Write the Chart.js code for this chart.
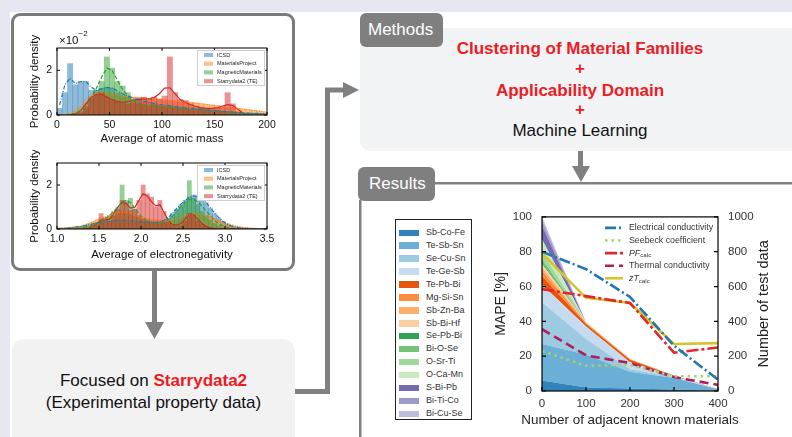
<!DOCTYPE html>
<html>
<head>
<meta charset="utf-8">
<script src="https://cdn.jsdelivr.net/npm/chart.js@4.4.1/dist/chart.umd.min.js"></script>
<style>
body { margin: 0; }
#page { position: relative; width: 792px; height: 437px; overflow: hidden; background: #fff;
        font-family: "Liberation Sans", Arial, sans-serif; }
.abs { position: absolute; }
.band { background: #e6e7f1; }
.tab { background: #7f7f7f; color: #fff; font-size: 17px; border-radius: 6px; box-sizing: border-box; }
.red { color: #ec1c24; font-weight: bold; }
.mline { left: 360px; width: 440px; text-align: center; font-size: 17px; line-height: 20px; }
#famLegend { left: 395px; top: 219px; width: 77px; height: 201px; border: 1px solid #222; box-sizing: border-box; background: #fff; }
.famRow { position: absolute; left: 0; height: 13px; line-height: 13px; font-size: 9px; color: #333; }
.famSw { position: absolute; left: 3px; top: 3.5px; width: 20px; height: 6.5px; }
.famTx { position: absolute; left: 30px; white-space: nowrap; }
</style>
</head>
<body>
<div id="page">
  <div class="abs band" style="left:0;top:0;width:792px;height:12px"></div>
  <div class="abs band" style="left:0;top:0;width:10px;height:437px"></div>

  <!-- left panel -->
  <div class="abs" style="left:11px;top:13px;width:284px;height:258px;border:3px solid #7b7b7b;border-radius:9px;box-sizing:border-box;background:#fff"></div>
  <canvas id="histMass" class="abs" style="left:14px;top:30px" width="270" height="120"></canvas>
  <canvas id="histEn" class="abs" style="left:14px;top:150px" width="270" height="120"></canvas>

  <!-- bottom left -->
  <div class="abs" style="left:12px;top:339px;width:283px;height:120px;background:#f2f2f2;border-radius:12px"></div>
  <div class="abs" style="left:12px;top:370px;width:283px;text-align:center;font-size:17px;line-height:22px;color:#111">
    Focused on <span class="red">Starrydata2</span><br>(Experimental property data)
  </div>

  <!-- methods -->
  <div class="abs" style="left:360px;top:28px;width:440px;height:123px;background:#f2f3f4;border-radius:10px"></div>
  <div class="abs tab" style="left:360px;top:13px;width:83px;height:34px;line-height:34px;padding-left:8px">Methods</div>
  <div class="abs mline red" style="top:39px">Clustering of Material Families</div>
  <div class="abs mline red" style="top:59px">+</div>
  <div class="abs mline red" style="top:81px">Applicability Domain</div>
  <div class="abs mline red" style="top:100px">+</div>
  <div class="abs mline" style="top:121px;color:#111">Machine Learning</div>

  <!-- results -->
  <div class="abs tab" style="left:358px;top:167px;width:77px;height:34px;line-height:34px;padding-left:11px">Results</div>

  <svg class="abs" style="left:0;top:0" width="792" height="437">
    <g fill="#808080">
      <rect x="152" y="270" width="5" height="53"></rect>
      <polygon points="145,322 164,322 154.5,339"></polygon>
      <polygon points="343,82 343,98 359,90"></polygon>
      <rect x="578" y="151" width="5" height="16"></rect>
      <polygon points="572,166 590,166 581,182"></polygon>
      <rect x="435" y="182" width="357" height="2.5"></rect>
      <rect x="359" y="200" width="2.5" height="237"></rect>
    </g>
    <polyline points="295,391.5 327.5,391.5 327.5,90 344,90" fill="none" stroke="#808080" stroke-width="5"></polyline>
  </svg>

  <div id="famLegend" class="abs"></div>
  <canvas id="mapeChart" class="abs" style="left:480px;top:200px" width="310" height="237"></canvas>
</div>

<script>
// ---------- histogram data: average atomic mass (x1e-2) ----------
const massCenters = [2.5,7.5,12.5,17.5,22.5,27.5,32.5,37.5,42.5,47.5,52.5,57.5,62.5,67.5,72.5,77.5,82.5,87.5,92.5,97.5,
  102.5,107.5,112.5,117.5,122.5,127.5,132.5,137.5,142.5,147.5,152.5,157.5,162.5,167.5,172.5,177.5,182.5,187.5,192.5,197.5];
const massICSD = [0.3,1.0,2.3,1.35,1.5,1.5,1.1,1.1,1.2,1.25,1.2,1.0,0.9,0.8,0.7,0.65,0.6,0.55,0.5,0.45,
  0.42,0.4,0.37,0.34,0.3,0.28,0.26,0.24,0.22,0.2,0.18,0.16,0.14,0.12,0.1,0.09,0.08,0.07,0.06,0.05];
const massMP = [0,0,0.05,0.15,0.3,0.55,0.8,0.95,1.0,0.98,0.95,0.9,0.85,0.82,0.8,0.78,0.78,0.74,0.72,0.72,
  0.68,0.66,0.64,0.62,0.6,0.57,0.54,0.51,0.48,0.45,0.42,0.39,0.36,0.33,0.3,0.27,0.24,0.21,0.18,0.15];
const massMM = [0,0,0.02,0.05,0.15,0.3,0.7,1.1,1.5,2.6,2.1,1.5,1.3,1.0,0.7,0.5,0.45,0.4,0.45,0.4,
  0.35,0.35,0.3,0.3,0.28,0.25,0.25,0.22,0.2,0.2,0.18,0.15,0.14,0.12,0.1,0.08,0.07,0.05,0.04,0.03];
const massSD = [0,0,0,0,0.1,0.4,0.8,0.95,1.0,0.8,0.7,0.6,0.55,0.5,0.55,0.75,0.8,0.75,0.8,0.7,
  0.85,2.6,1.0,0.7,0.65,0.5,0.4,0.35,0.3,0.3,0.3,0.35,1.0,0.5,0.15,0.05,0,0,0,0];
const massKdeICSD = [0.45,1.35,1.65,1.4,1.5,1.5,1.25,1.1,1.17,1.23,1.2,1.08,0.95,0.85,0.76,0.68,0.62,0.57,0.52,0.48,
  0.45,0.42,0.38,0.35,0.32,0.3,0.27,0.25,0.23,0.21,0.19,0.17,0.15,0.13,0.11,0.1,0.09,0.08,0.07,0.06];
const massKdeMP = [0,0.02,0.08,0.2,0.4,0.65,0.85,0.97,1.0,0.97,0.93,0.88,0.84,0.81,0.79,0.77,0.75,0.73,0.71,0.69,
  0.67,0.65,0.63,0.61,0.58,0.55,0.52,0.5,0.47,0.44,0.41,0.38,0.35,0.32,0.29,0.26,0.23,0.2,0.17,0.14];
const massKdeMM = [0,0.01,0.03,0.08,0.2,0.4,0.75,1.2,1.7,2.1,2.0,1.55,1.15,0.85,0.65,0.53,0.46,0.43,0.41,0.39,
  0.37,0.35,0.33,0.31,0.29,0.27,0.25,0.23,0.21,0.19,0.17,0.15,0.13,0.11,0.09,0.07,0.06,0.05,0.04,0.03];
const massKdeSD = [0,0,0.01,0.05,0.2,0.5,0.8,0.93,0.93,0.8,0.68,0.6,0.57,0.6,0.65,0.7,0.72,0.72,0.78,0.95,
  1.2,1.22,0.95,0.68,0.55,0.46,0.38,0.32,0.3,0.3,0.33,0.4,0.46,0.42,0.25,0.08,0.02,0,0,0];
const massTicks = [0, 50, 100, 150, 200];

// ---------- histogram data: average electronegativity ----------
const enCenters = [1.025,1.075,1.125,1.175,1.225,1.275,1.325,1.375,1.425,1.475,1.525,1.575,1.625,1.675,1.725,1.775,1.825,1.875,1.925,1.975,
  2.025,2.075,2.125,2.175,2.225,2.275,2.325,2.375,2.425,2.475,2.525,2.575,2.625,2.675,2.725,2.775,2.825,2.875,2.925,2.975,
  3.025,3.075,3.125,3.175,3.225,3.275,3.325,3.375,3.425,3.475];
const enICSD = [0.02,0.03,0.05,0.07,0.1,0.12,0.15,0.18,0.22,0.26,0.3,0.33,0.36,0.38,0.4,0.42,0.4,0.38,0.36,0.35,
  0.33,0.32,0.3,0.3,0.32,0.38,0.5,0.7,0.9,1.1,1.3,1.45,1.55,1.5,1.4,1.2,0.95,0.7,0.5,0.35,
  0.22,0.14,0.08,0.05,0.03,0.02,0.01,0.01,0,0];
const enMP = [0.05,0.05,0.06,0.08,0.1,0.12,0.18,0.25,0.32,0.42,0.5,0.55,0.6,0.68,0.75,0.8,0.78,0.7,0.6,0.55,
  0.5,0.45,0.42,0.4,0.38,0.36,0.35,0.38,0.45,0.52,0.6,0.68,0.72,0.72,0.7,0.62,0.55,0.47,0.4,0.32,
  0.25,0.18,0.13,0.1,0.07,0.05,0.04,0.03,0.02,0.01];
const enMM = [0,0,0,0,0.02,0.04,0.08,0.12,0.2,0.3,0.4,0.5,0.6,0.8,1.0,2.0,1.3,1.4,0.9,0.6,
  0.45,0.35,0.3,0.25,0.25,0.3,0.4,0.55,0.75,1.0,1.2,2.2,1.4,1.1,0.8,0.6,0.4,0.25,0.15,0.08,
  0.04,0.02,0,0,0,0,0,0,0,0];
const enSD = [0,0,0,0,0,0,0,0,0.05,0.2,0.7,0.4,0.35,0.6,0.9,1.3,1.2,0.85,0.9,1.3,
  2.0,1.6,1.45,1.0,1.3,0.8,0.3,0.15,0.1,0.15,0.35,0.7,0.6,0.35,0.2,0.1,0.05,0,0,0,
  0,0,0,0,0,0,0,0,0,0];
const enKdeICSD = [0.01,0.02,0.04,0.06,0.09,0.12,0.15,0.19,0.23,0.27,0.3,0.33,0.36,0.38,0.39,0.4,0.39,0.37,0.35,0.33,
  0.32,0.31,0.3,0.3,0.33,0.4,0.52,0.72,0.93,1.13,1.3,1.43,1.5,1.48,1.38,1.2,0.97,0.73,0.52,0.35,
  0.22,0.13,0.08,0.05,0.03,0.02,0.01,0,0,0];
const enKdeMP = [0.03,0.04,0.05,0.07,0.09,0.12,0.17,0.24,0.32,0.41,0.49,0.55,0.61,0.68,0.74,0.77,0.75,0.69,0.61,0.55,
  0.5,0.46,0.42,0.4,0.38,0.37,0.37,0.4,0.46,0.53,0.6,0.66,0.7,0.7,0.67,0.61,0.54,0.46,0.39,0.31,
  0.24,0.18,0.13,0.09,0.06,0.05,0.04,0.03,0.02,0.01];
const enKdeMM = [0,0,0,0,0.02,0.04,0.07,0.11,0.17,0.25,0.35,0.47,0.62,0.8,1.0,1.2,1.3,1.2,0.95,0.7,
  0.5,0.38,0.3,0.27,0.27,0.32,0.42,0.58,0.8,1.02,1.2,1.33,1.35,1.25,1.05,0.82,0.6,0.4,0.25,0.15,
  0.08,0.04,0.02,0,0,0,0,0,0,0];
const enKdeSD = [0,0,0,0,0,0,0,0.03,0.1,0.25,0.4,0.42,0.45,0.7,1.0,1.22,1.15,0.95,0.98,1.3,
  1.6,1.5,1.25,1.05,1.1,0.75,0.38,0.2,0.18,0.25,0.45,0.7,0.65,0.45,0.25,0.12,0.05,0.02,0,0,
  0,0,0,0,0,0,0,0,0,0];
const enTicks = [1.0, 1.5, 2.0, 2.5, 3.0, 3.5];
const densityTicks = [0, 2];

const sourceNames = ['ICSD', 'MaterialsProject', 'MagneticMaterials', 'Starrydata2 (TE)'];
const sourceColors = ['#1f77b4', '#ff7f0e', '#2ca02c', '#d62728'];
const sourceFills = ['rgba(31,119,180,0.5)', 'rgba(255,127,14,0.5)', 'rgba(44,160,44,0.5)', 'rgba(214,39,40,0.5)'];
const kdeDashes = [[4, 1.5, 1, 1.5], [1, 1.5], [4, 2], []];

// ---------- MAPE chart data ----------
const knownCounts = [0, 100, 200, 300, 400];
const mapeElec = [80, 70, 54, 26, 6.5];
const mapeSeebeck = [23, 14.5, 15, 8.5, 8.5];
const mapePF = [58.5, 54.5, 50.5, 22, 25];
const mapeThermal = [35.5, 20.5, 16, 8, 3.5];
const mapeZT = [79, 53.5, 50.5, 27, 27.5];

const families = ['Sb-Co-Fe','Te-Sb-Sn','Se-Cu-Sn','Te-Ge-Sb','Te-Pb-Bi','Mg-Si-Sn','Sb-Zn-Ba','Sb-Bi-Hf',
  'Se-Pb-Bi','Bi-O-Se','O-Sr-Ti','O-Ca-Mn','S-Bi-Pb','Bi-Ti-Co','Bi-Cu-Se'];
const familyColors = ['#3182bd','#6baed6','#9ecae1','#c6dbef','#e6550d','#fd8d3c','#fdae6b','#fdd0a2',
  '#31a354','#74c476','#a1d99b','#c7e9c0','#756bb1','#9e9ac8','#bcbddc'];
// number of test data per family at each x (stacked)
const countsAt0   = [60, 210, 240, 100, 50, 30, 20, 20, 10, 20, 40, 70, 80, 30, 20];
const countsAt100 = [20, 190, 90, 70, 15, 5, 3, 2, 0, 0, 0, 0, 0, 0, 0];
const countsAt200 = [15, 95, 15, 40, 15, 3, 1, 1, 0, 0, 0, 0, 0, 0, 0];
const countsAt300 = [8, 67, 5, 5, 3, 1, 0, 0, 0, 0, 0, 0, 0, 0, 0];
const countsAt400 = [2, 8, 0, 0, 1, 0, 0, 0, 0, 0, 0, 0, 0, 0, 0];
const mapeTicks = [0, 20, 40, 60, 80, 100];
const countTicks = [0, 200, 400, 600, 800, 1000];
const knownTicks = [0, 100, 200, 300, 400];

const FONT = '"Liberation Sans", Arial, sans-serif';
Chart.defaults.font.family = FONT;
Chart.defaults.color = '#222';

// box around plot + inward ticks (+ titles that must not be squeezed)
const framePlugin = {
  id: 'frame',
  afterDraw(chart, args, opts) {
    const { ctx, chartArea: a } = chart;
    const len = opts.tick || 3;
    ctx.save();
    ctx.strokeStyle = '#000';
    ctx.lineWidth = opts.width || 1;
    ctx.strokeRect(a.left, a.top, a.right - a.left, a.bottom - a.top);
    ctx.beginPath();
    Object.values(chart.scales).forEach(s => {
      s.ticks.forEach(t => {
        const p = s.getPixelForValue(t.value);
        if (s.isHorizontal()) {
          ctx.moveTo(p, a.bottom); ctx.lineTo(p, a.bottom - len);
          if (opts.mirror) { ctx.moveTo(p, a.top); ctx.lineTo(p, a.top + len); }
        } else if (s.position === 'left') {
          ctx.moveTo(a.left, p); ctx.lineTo(a.left + len, p);
          if (opts.mirror) { ctx.moveTo(a.right, p); ctx.lineTo(a.right - len, p); }
        } else {
          ctx.moveTo(a.right, p); ctx.lineTo(a.right - len, p);
        }
      });
    });
    ctx.stroke();
    ctx.fillStyle = '#222';
    ctx.textAlign = 'center';
    ctx.textBaseline = 'middle';
    if (opts.bottomTitle) {
      ctx.font = opts.bottomTitle.size + 'px ' + FONT;
      ctx.fillText(opts.bottomTitle.text, (a.left + a.right) / 2, a.bottom + opts.bottomTitle.offset);
    }
    // right-hand title, read bottom to top like the left one
    if (opts.rightTitle) {
      ctx.translate(a.right + opts.rightTitle.offset, (a.top + a.bottom) / 2);
      ctx.rotate(-Math.PI / 2);
      ctx.font = opts.rightTitle.size + 'px ' + FONT;
      ctx.fillText(opts.rightTitle.text, 0, 0);
    }
    ctx.restore();
  }
};

// small boxed legend in the histograms + optional x10^-2 label
const histLegend = {
  id: 'histLegend',
  afterDraw(chart, args, opts) {
    const { ctx, chartArea: a } = chart;
    ctx.save();
    const bx = a.right - 70, by = a.top + 2;
    ctx.fillStyle = 'rgba(255,255,255,0.9)';
    ctx.strokeStyle = '#cfcfcf';
    ctx.lineWidth = 1;
    ctx.fillRect(bx, by, 68, 36);
    ctx.strokeRect(bx + 0.5, by + 0.5, 67, 35);
    ctx.font = '5.5px ' + FONT;
    ctx.textBaseline = 'middle';
    sourceNames.forEach((n, i) => {
      const y = by + 5 + i * 8.7;
      ctx.fillStyle = sourceFills[i];
      ctx.fillRect(bx + 7, y - 2, 9, 4);
      ctx.fillStyle = '#222';
      ctx.fillText(n, bx + 20, y);
    });
    if (opts.exponent) {
      ctx.fillStyle = '#111';
      ctx.textBaseline = 'alphabetic';
      ctx.font = '11.5px ' + FONT;
      ctx.fillText('\u00d710', a.left + 2, a.top - 4);
      const w = ctx.measureText('\u00d710').width;
      ctx.font = '8px ' + FONT;
      ctx.fillText('\u22122', a.left + 2 + w, a.top - 12);
    }
    ctx.restore();
  }
};

function makeHist(id, centers, bars, kdes, xMin, xMax, xTicks, xTitle, fmt, exponent, geo) {
  const datasets = [];
  kdes.forEach((k, i) => datasets.push({
    type: 'line', data: centers.map((x, j) => ({ x, y: k[j] })),
    borderColor: sourceColors[i], borderWidth: 1.2, borderDash: kdeDashes[i],
    pointRadius: 0, fill: false, order: 0
  }));
  bars.forEach((b, i) => datasets.push({
    type: 'bar', label: sourceNames[i], data: centers.map((x, j) => ({ x, y: b[j] })),
    backgroundColor: sourceFills[i], borderWidth: 0, grouped: false,
    barPercentage: 1, categoryPercentage: 1, order: 4 - i
  }));
  new Chart(document.getElementById(id), {
    type: 'bar',
    data: { datasets },
    options: {
      responsive: false, animation: false,
      layout: { padding: { left: 10, right: 17, top: geo.top, bottom: geo.bottom } },
      plugins: { legend: { display: false }, tooltip: { enabled: false },
                 frame: { tick: 3, mirror: true }, histLegend: { exponent } },
      scales: {
        x: {
          type: 'linear', min: xMin, max: xMax, offset: false,
          afterBuildTicks: s => { s.ticks = xTicks.map(v => ({ value: v })); },
          afterFit: s => { s.height = geo.xh; },
          grid: { display: false, drawTicks: false }, border: { display: false },
          ticks: { padding: 4, color: '#111', font: { size: 10.5 }, maxRotation: 0, callback: fmt },
          title: { display: true, text: xTitle, color: '#111', font: { size: 11.5 }, padding: 4 }
        },
        y: {
          min: 0, max: 3,
          afterBuildTicks: s => { s.ticks = densityTicks.map(v => ({ value: v })); },
          afterFit: s => { s.width = 33; },
          grid: { display: false, drawTicks: false }, border: { display: false },
          ticks: { padding: 5, color: '#111', font: { size: 10.5 } },
          title: { display: true, text: 'Probability density', color: '#111', font: { size: 11.5 }, padding: 4 }
        }
      }
    },
    plugins: [framePlugin, histLegend]
  });
}

makeHist('histMass', massCenters, [massICSD, massMP, massMM, massSD],
  [massKdeICSD, massKdeMP, massKdeMM, massKdeSD], 0, 200, massTicks,
  'Average of atomic mass', v => String(v), true, { top: 18, bottom: 0, xh: 35 });
makeHist('histEn', enCenters, [enICSD, enMP, enMM, enSD],
  [enKdeICSD, enKdeMP, enKdeMM, enKdeSD], 1.0, 3.5, enTicks,
  'Average of electronegativity', v => v.toFixed(1), false, { top: 13, bottom: 4, xh: 37 });

// ---------- family legend (HTML) ----------
const famBox = document.getElementById('famLegend');
families.forEach((f, i) => {
  const row = document.createElement('div');
  row.className = 'famRow';
  row.style.top = (6 + i * 12.93) + 'px';
  row.innerHTML = '<div class="famSw" style="background:' + familyColors[i] + '"></div><div class="famTx">' + f + '</div>';
  famBox.appendChild(row);
});

// ---------- MAPE chart ----------
const lineLegend = {
  id: 'lineLegend',
  afterDatasetsDraw(chart) {
    const { ctx, chartArea: a } = chart;
    ctx.save();
    let row = 0;
    chart.data.datasets.forEach(d => {
      if (!d.legendParts) return;
      const y = a.top + 11 + row * 12.6;
      row++;
      ctx.strokeStyle = d.borderColor;
      ctx.lineWidth = d.borderWidth;
      ctx.setLineDash(d.borderDash || []);
      ctx.beginPath();
      ctx.moveTo(a.left + 63, y); ctx.lineTo(a.left + 81, y);
      ctx.stroke();
      ctx.setLineDash([]);
      let x = a.left + 87;
      ctx.fillStyle = '#333';
      ctx.textBaseline = 'middle';
      d.legendParts.forEach(p => {
        ctx.font = (p.italic ? 'italic ' : '') + (p.sub ? 6.2 : 8.8) + 'px ' + FONT;
        ctx.fillText(p.t, x, p.sub ? y + 2.5 : y);
        x += ctx.measureText(p.t).width;
      });
    });
    ctx.restore();
  }
};

const lineSets = [
  { label: 'Electrical conductivity', values: mapeElec, color: '#1f77b4', dash: [11, 3, 2, 3],
    parts: [{ t: 'Electrical conductivity' }] },
  { label: 'Seebeck coefficient', values: mapeSeebeck, color: '#a3d36b', dash: [2.5, 4],
    parts: [{ t: 'Seebeck coefficient' }] },
  { label: 'PFcalc', values: mapePF, color: '#e3262a', dash: [12, 3, 3, 3],
    parts: [{ t: 'PF', italic: true }, { t: 'calc', sub: true }] },
  { label: 'Thermal conductivity', values: mapeThermal, color: '#b01c5c', dash: [9, 5],
    parts: [{ t: 'Thermal conductivity' }] },
  { label: 'zTcalc', values: mapeZT, color: '#d4c52a', dash: [],
    parts: [{ t: 'zT', italic: true }, { t: 'calc', sub: true }] }
].map(s => ({
  label: s.label, yAxisID: 'y', data: knownCounts.map((x, i) => ({ x, y: s.values[i] })),
  borderColor: s.color, borderWidth: 2.6, borderDash: s.dash, pointRadius: 0, fill: false,
  legendParts: s.parts
}));

const countRows = [countsAt0, countsAt100, countsAt200, countsAt300, countsAt400];
const areaSets = families.map((f, k) => ({
  label: f, yAxisID: 'y1', data: knownCounts.map((x, i) => ({ x, y: countRows[i][k] })),
  backgroundColor: familyColors[k], borderColor: familyColors[k], borderWidth: 0,
  pointRadius: 0, fill: k === 0 ? 'origin' : '-1'
}));

new Chart(document.getElementById('mapeChart'), {
  type: 'line',
  data: { datasets: [...lineSets, ...areaSets] },
  options: {
    responsive: false, animation: false,
    layout: { padding: { left: 8, right: 14, top: 14, bottom: 3 } },
    elements: { line: { tension: 0 } },
    plugins: { legend: { display: false }, tooltip: { enabled: false },
               frame: { tick: 4, width: 1.2,
                        rightTitle: { text: 'Number of test data', size: 14.5, offset: 46 },
                        bottomTitle: { text: 'Number of adjacent known materials', size: 13.4, offset: 29 } } },
    scales: {
      x: {
        type: 'linear', min: 0, max: 400,
        afterBuildTicks: s => { s.ticks = knownTicks.map(v => ({ value: v })); },
        afterFit: s => { s.height = 43; },
        grid: { display: false, drawTicks: false }, border: { display: false },
        ticks: { padding: 6, color: '#333', font: { size: 11.5 }, maxRotation: 0, callback: v => String(v) },
        title: { display: false }
      },
      y: {
        position: 'left', min: 0, max: 100,
        afterBuildTicks: s => { s.ticks = mapeTicks.map(v => ({ value: v })); },
        afterFit: s => { s.width = 54; },
        grid: { display: false, drawTicks: false }, border: { display: false },
        ticks: { padding: 10, color: '#333', font: { size: 11.5 }, callback: v => String(v) },
        title: { display: true, text: 'MAPE [%]', color: '#222', font: { size: 14 }, padding: 5 }
      },
      y1: {
        position: 'right', min: 0, max: 1000, stacked: true,
        afterBuildTicks: s => { s.ticks = countTicks.map(v => ({ value: v })); },
        afterFit: s => { s.width = 58; },
        grid: { display: false, drawTicks: false }, border: { display: false },
        ticks: { padding: 10, color: '#333', font: { size: 11.5 }, callback: v => String(v) },
        title: { display: false }
      }
    }
  },
  plugins: [framePlugin, lineLegend]
});
</script>
</body>
</html>
